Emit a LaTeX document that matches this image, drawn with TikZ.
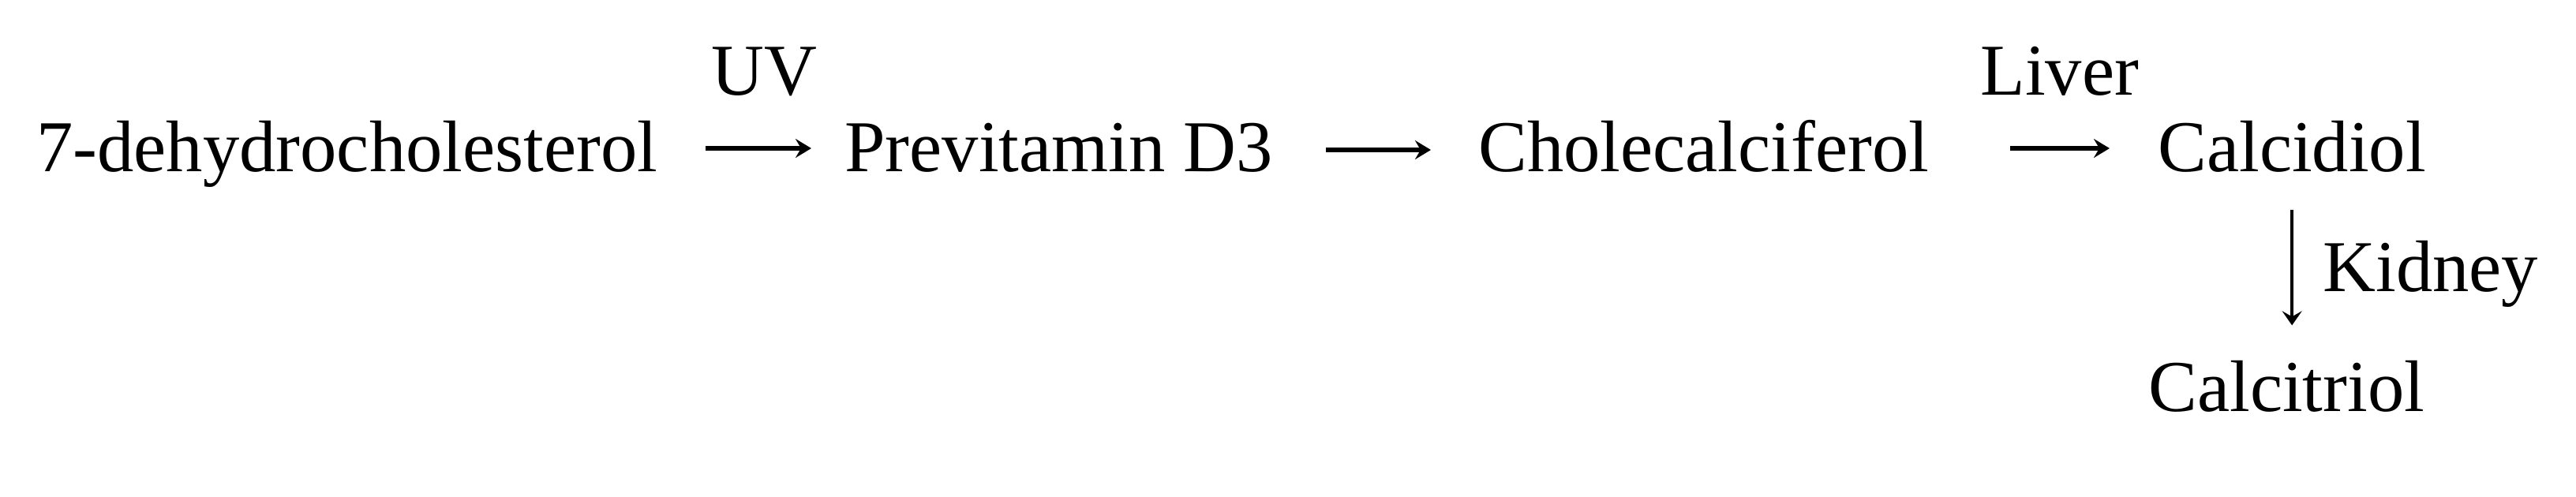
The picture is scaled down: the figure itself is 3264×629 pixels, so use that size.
\documentclass[tikz,border=0pt]{standalone}
\usepackage{fontspec}
\setmainfont{Liberation Serif}
\usetikzlibrary{arrows.meta}
\begin{document}
\begin{tikzpicture}[x=0.5pt,y=-0.5pt,
  txt/.style={inner sep=0pt, anchor=base west, font=\fontsize{46.3}{55}\selectfont},
  harr/.style={line width=2.6pt, -{Stealth[length=10pt,width=12pt,inset=3.5pt]}},
  varr/.style={line width=1.7pt, -{Stealth[length=9pt,width=12.5pt,inset=3.5pt]}}]
\useasboundingbox (0,0) rectangle (3264,629);
\node[txt] (dhc) at (46,217) {7-dehydrocholesterol};
\node[txt] (pre) at (1070,217) {Previtamin D3};
\node[txt] (cho) at (1873,217) {Cholecalciferol};
\node[txt] (cdl) at (2734,217) {Calcidiol};
\node[txt] (ctl) at (2722,521) {Calcitriol};
\node[txt] (uv) at (901,120) {UV};
\node[txt] (liv) at (2509,120) {Liver};
\node[txt] (kid) at (2943,369) {Kidney};
\draw[harr, shorten <=30pt, shorten >=21pt] ([yshift=14.5pt]dhc.base east) -- ([yshift=14.5pt]pre.base west);
\draw[harr, shorten <=33.5pt, shorten >=30pt] ([yshift=13.5pt]pre.base east) -- ([yshift=13.5pt]cho.base west);
\draw[harr, shorten <=51pt, shorten >=30.5pt] ([yshift=14.5pt]cho.base east) -- ([yshift=14.5pt]cdl.base west);
\draw[varr, shorten <=24pt, shorten >=22pt] (cdl.south) -- (cdl.south |- ctl.north);
\end{tikzpicture}
\end{document}
